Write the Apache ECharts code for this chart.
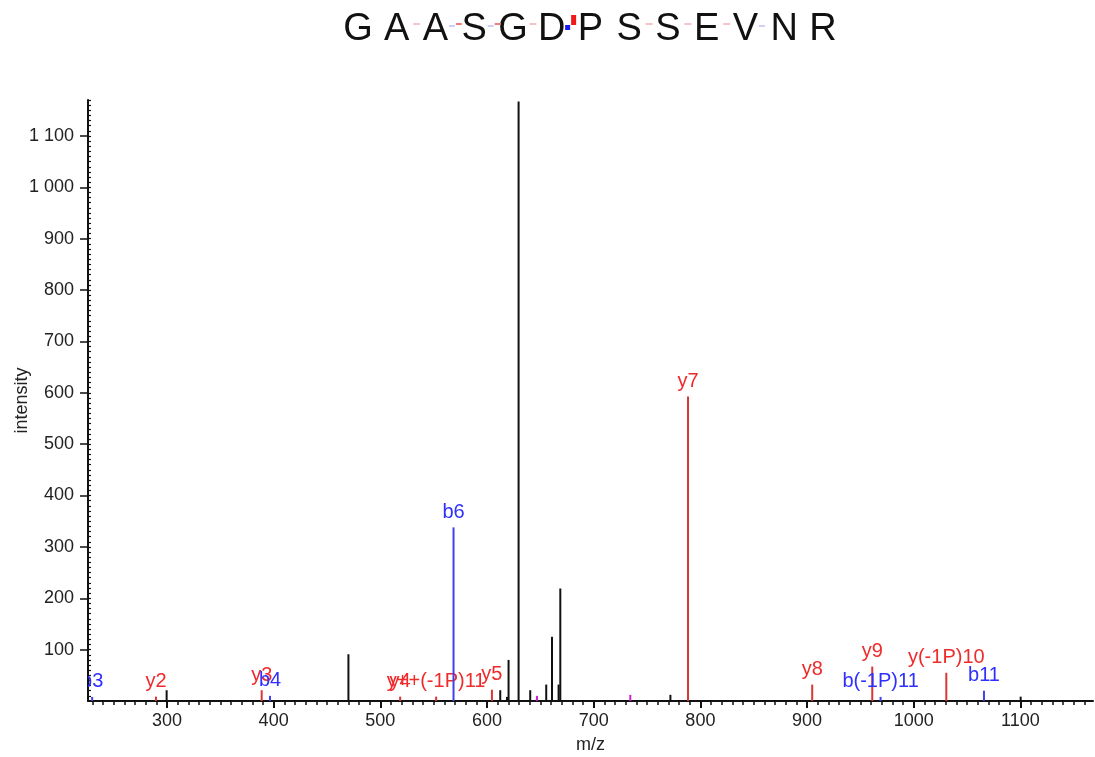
<!DOCTYPE html>
<html><head><meta charset="utf-8">
<script src="https://cdn.jsdelivr.net/npm/echarts@6/dist/echarts.min.js"></script>
<style>html,body{margin:0;padding:0;background:#fff}#c{width:1095px;height:757px}</style>
</head><body><div id="c"></div>
<script>
// ---- data ----
const sequence = ['G','A','A','S','G','D','P','S','S','E','V','N','R'];
const yGapsStrong = [2, 3];          // gaps (after letter index) with strong y coverage
const yGapsPale = [1, 4, 7, 8, 9];   // gaps with pale y coverage
const bGaps = [2, 3, 10];            // gaps with b coverage
const siteGap = 5;                   // modification site marker

const peakMz  = [229.9, 289.7, 299.7, 388.8, 396.6, 470.1, 518.6, 552.3, 568.6, 604.6, 612.4, 618.7, 620.2, 629.6, 640.5, 646.8, 646.8, 655.5, 660.9, 667.1, 668.7, 734.3, 771.9, 788.4, 904.8, 961.1, 968.9, 1030.5, 1065.8, 1100.2];
const peakInt = [8, 8.5, 21, 21, 10, 91, 8.5, 8.5, 338, 22, 21, 8, 80, 1167, 21, 6, 10, 32, 125, 32, 219, 12, 12, 593, 32, 67, 8, 55, 20, 8.5];
const peakType = ['b','y','k','y','b','k','y','y','b','y','k','k','k','k','k','k','m','k','k','k','k','m','k','y','y','y','b','y','b','k'];
const peakLabel = ['b3','y2','','y3','b4','','y4','y++(-1P)11','b6','y5','','','','','','','','','','','','','','y7','y8','y9','b(-1P)11','y(-1P)10','b11',''];

const xTickValues = [300, 400, 500, 600, 700, 800, 900, 1000, 1100];
const yTickValues = [100, 200, 300, 400, 500, 600, 700, 800, 900, 1000, 1100];

// ---- build ----
const lineColor = {k: '#111111', y: '#d93636', b: '#4040ee', m: '#cc22cc'};
const textColor = {y: '#f02a2a', b: '#2f2fff'};
const FONT = '"Liberation Sans", Arial, sans-serif';

const xMin = 226, xMax = 1168, yMax = 1170;
const xMinor = [], yMinor = [];
for (let v = 230; v <= xMax; v += 10) xMinor.push(v);
for (let v = 10; v <= yMax; v += 10) yMinor.push(v);

const data = peakMz.map((m, i) => [m, peakInt[i]]);

const graphics = [];
const cx0 = 358, dx = 38.75, ty = 30;
sequence.forEach((ch, i) => {
  graphics.push({type: 'text', x: cx0 + i * dx, y: ty,
    style: {text: ch, font: '38px ' + FONT, fill: '#111', align: 'center', verticalAlign: 'middle'}});
});
function gapCenter(g) { return cx0 + (g + 0.5) * dx; }
bGaps.forEach(g => graphics.push({type: 'line', shape: {x1: gapCenter(g) - 6, y1: 26, x2: gapCenter(g), y2: 26}, style: {stroke: '#cfcff3', lineWidth: 2}}));
yGapsPale.forEach(g => graphics.push({type: 'line', shape: {x1: gapCenter(g) - 3, y1: 24, x2: gapCenter(g) + 4, y2: 24}, style: {stroke: '#f6c4c4', lineWidth: 2}}));
yGapsStrong.forEach(g => graphics.push({type: 'line', shape: {x1: gapCenter(g) + 1, y1: 24, x2: gapCenter(g) + 7, y2: 24}, style: {stroke: '#ef7f7f', lineWidth: 2}}));
graphics.push({type: 'rect', shape: {x: gapCenter(siteGap) - 6, y: 25, width: 5, height: 5}, style: {fill: '#1a1af0'}});
graphics.push({type: 'rect', shape: {x: gapCenter(siteGap) + 0, y: 15, width: 5, height: 10}, style: {fill: '#f01a1a'}});

const chart = echarts.init(document.getElementById('c'), null, {renderer: 'canvas'});
const axisText = {color: '#222', fontSize: 18, fontFamily: FONT};
chart.setOption({
  animation: false,
  backgroundColor: '#fff',
  graphic: graphics,
  grid: {left: 88, right: 2, top: 100, bottom: 56, containLabel: false, outerBoundsMode: 'none'},
  xAxis: [{
    type: 'value', min: xMin, max: xMax, position: 'bottom',
    name: 'm/z', nameLocation: 'middle', nameGap: 35,
    nameTextStyle: {color: '#222', fontSize: 18, fontFamily: FONT},
    axisLine: {show: true, onZero: false, lineStyle: {color: '#111', width: 2}},
    axisTick: {show: true, length: 7, customValues: xTickValues, lineStyle: {color: '#111', width: 2}},
    axisLabel: Object.assign({customValues: xTickValues, margin: 11, formatter: v => String(v)}, axisText),
    splitLine: {show: false}
  }, {
    type: 'value', min: xMin, max: xMax, position: 'bottom',
    axisLine: {show: false, onZero: false},
    axisTick: {show: true, length: 4, customValues: xMinor, lineStyle: {color: '#111', width: 1.5}},
    axisLabel: {show: false},
    splitLine: {show: false}
  }],
  yAxis: [{
    type: 'value', min: 0, max: yMax, position: 'left',
    name: 'intensity', nameLocation: 'middle', nameGap: 57, nameMoveOverlap: false,
    nameTextStyle: {color: '#222', fontSize: 18, fontFamily: FONT},
    axisLine: {show: true, onZero: false, lineStyle: {color: '#111', width: 2}},
    axisTick: {show: true, length: 8, customValues: yTickValues, lineStyle: {color: '#111', width: 1.5}},
    axisLabel: Object.assign({customValues: yTickValues, margin: 14,
      formatter: v => String(v).replace(/\B(?=(\d{3})+(?!\d))/g, ' ')}, axisText),
    splitLine: {show: false}
  }, {
    type: 'value', min: 0, max: yMax, position: 'left',
    axisLine: {show: false, onZero: false},
    axisTick: {show: true, inside: true, length: 3, customValues: yMinor, lineStyle: {color: '#111', width: 1.2}},
    axisLabel: {show: false},
    splitLine: {show: false}
  }],
  series: [{
    type: 'custom', xAxisIndex: 0, yAxisIndex: 0, clip: true,
    data: data,
    renderItem: function (params, api) {
      const i = params.dataIndex;
      const m = api.value(0), v = api.value(1);
      const p0 = api.coord([m, 0]), p1 = api.coord([m, v]);
      const t = peakType[i];
      const children = [{type: 'line', shape: {x1: p0[0], y1: p0[1], x2: p1[0], y2: p1[1]},
        style: {stroke: lineColor[t], lineWidth: 2}}];
      if (peakLabel[i]) {
        children.push({type: 'text', x: p1[0], y: p1[1] - 15,
          style: {text: peakLabel[i], fill: textColor[t], font: '20px ' + FONT, align: 'center', verticalAlign: 'middle'}});
      }
      return {type: 'group', children: children};
    }
  }]
});
</script>
</body></html>
